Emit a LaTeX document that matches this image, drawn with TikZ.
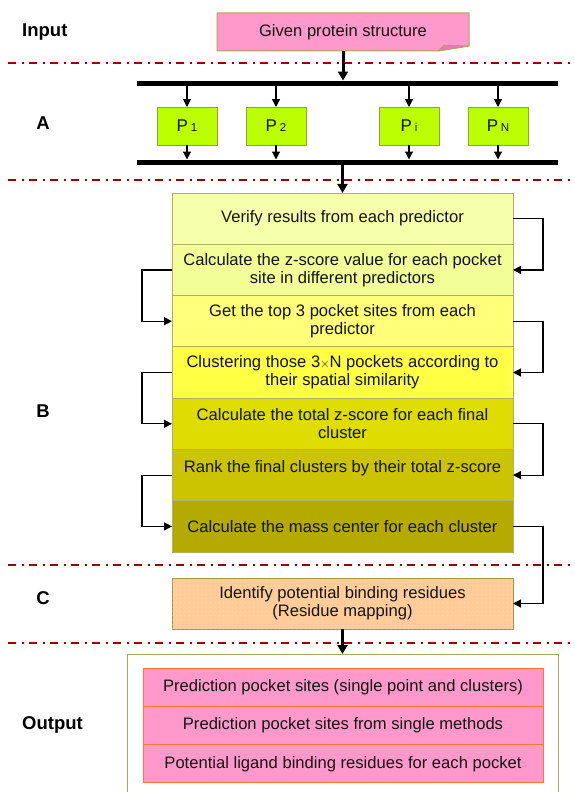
\documentclass[tikz,border=0pt]{standalone}
\usepackage{fontspec}
\setmainfont{Liberation Sans}
\usetikzlibrary{arrows.meta,patterns.meta}
\definecolor{pinkfill}{HTML}{FF99CC}
\definecolor{pinkfold}{HTML}{D980AD}
\definecolor{inborder}{HTML}{B5A25A}
\definecolor{pgreen}{HTML}{BBFF00}
\definecolor{pborder}{HTML}{9C9C3A}
\definecolor{rowborder}{HTML}{B0B060}
\definecolor{rA}{HTML}{F6FFAA}
\definecolor{rB}{HTML}{F1FF96}
\definecolor{rC}{HTML}{FFFF7A}
\definecolor{rD}{HTML}{FFFF44}
\definecolor{rE}{HTML}{DEDC00}
\definecolor{rF}{HTML}{CCC400}
\definecolor{rG}{HTML}{B4AA00}
\definecolor{cfill}{HTML}{FFCC99}
\definecolor{cdots}{HTML}{FFDDB8}
\definecolor{cborder}{HTML}{A09A40}
\definecolor{outborder}{HTML}{A8A860}
\definecolor{oborder}{HTML}{FF7733}
\definecolor{sepred}{HTML}{990000}
\definecolor{txt}{HTML}{141414}
\newcommand{\txtfont}{\fontsize{16.6}{18}\selectfont}
\newcommand{\subsz}[1]{\,{\fontsize{11.5}{11.5}\selectfont #1}}
\begin{document}
\begin{tikzpicture}[x=1pt,y=-1pt,
  lbl/.style={font=\bfseries\fontsize{18.5}{20}\selectfont, inner sep=0pt},
  sepline/.style={draw=sepred, line width=2pt, dash pattern=on 8pt off 5.5pt on 2pt off 5.5pt},
  bar/.style={line width=5pt},
  thickarrow/.style={line width=3pt, -{Triangle[length=9pt,width=10pt]}},
  thinarrow/.style={line width=1.2pt, -{Triangle[length=8pt,width=8pt]}},
  pbox/.style={draw=pborder, fill=pgreen, line width=0.8pt, minimum width=60pt, minimum height=38pt, inner sep=0pt, outer sep=0pt, font=\fontsize{17}{18}\selectfont, text=txt},
  rowbox/.style={draw=rowborder, line width=0.8pt, minimum width=341pt, minimum height=51.3pt, inner sep=0pt, outer sep=0pt, align=center, font=\txtfont, text=txt},
  obox/.style={draw=oborder, fill=pinkfill, line width=1pt, minimum width=400pt, minimum height=38.3pt, inner sep=0pt, outer sep=0pt, font=\txtfont, text=txt}
]
\useasboundingbox (0,0) rectangle (575,792);
\clip (0,0) rectangle (575,792);

% section separators
\foreach \yy in {63,180,565,643} \draw[sepline] (8,\yy) -- (575,\yy);

% labels
\node[lbl, anchor=west] (lin) at (22,32) {Input};
\node[lbl] (la) at (43,123) {A};
\node[lbl] (lb) at (43,411) {B};
\node[lbl] (lc) at (43,598) {C};
\node[lbl, anchor=west] (lout) at (22,725) {Output};

% input box with folded corner
\filldraw[fill=pinkfill, draw=inborder, line width=1pt] (217,13) -- (469,13) -- (469,46) -- (438,51) -- (217,51) -- cycle;
\filldraw[fill=pinkfold, draw=inborder, line width=0.6pt] (469,46) -- (438,51) -- (444,45) -- cycle;
\node[font=\txtfont, text=txt, inner sep=0pt, outer sep=0pt, minimum width=252pt, minimum height=38pt] (in) at (343,32) {Given protein structure};

% bars
\coordinate (b1L) at (137,83);
\coordinate (b1R) at (558,83);
\coordinate (b2L) at (137,162);
\coordinate (b2R) at (558,162);
\coordinate (b2top) at (0,159.5);
\coordinate (b1bot) at (0,85);
\coordinate (b1top) at (0,80.5);
\draw[bar] (b1L) -- (b1R);
\draw[bar] (b2L) -- (b2R);
\draw[thickarrow] (in.south) -- (in.south |- b1top);

% predictors
\node[pbox] (p1) at (187,126) {P\subsz{1}};
\node[pbox] (p2) at (276,126) {P\subsz{2}};
\node[pbox] (pi) at (409,126) {P\subsz{i}};
\node[pbox] (pn) at (498,126) {P\subsz{N}};
\foreach \p in {p1,p2,pi,pn} {
  \draw[thinarrow] (\p.north |- b1bot) -- (\p.north);
  \draw[thinarrow] (\p.south) -- (\p.south |- b2top);
}

% B block
\node[rowbox, fill=rA] (r1) at (342.5,218.6) {Verify results from each predictor};
\node[rowbox, fill=rB] (r2) at (342.5,269.9) {Calculate the z-score value for each pocket\\site in different predictors};
\node[rowbox, fill=rC] (r3) at (342.5,321.2) {Get the top 3 pocket sites from each\\predictor};
\node[rowbox, fill=rD] (r4) at (342.5,372.5) {Clustering those 3\raisebox{0.5pt}{\fontsize{12}{12}\selectfont$\times$}N pockets according to\\their spatial similarity};
\node[rowbox, fill=rE] (r5) at (342.5,423.8) {Calculate the total z-score for each final\\cluster};
\node[rowbox, fill=rF] (r6) at (342.5,475.1) {Rank the final clusters by their total z-score\\\mbox{}};
\node[rowbox, fill=rG] (r7) at (342.5,526.4) {Calculate the mass center for each cluster};

\draw[thickarrow] (b2L -| r1.north) -- (r1.north);

\draw[thinarrow] (r1.east) -- ++(30,0) |- (r2.east);
\draw[thinarrow] (r2.west) -- ++(-30,0) |- (r3.west);
\draw[thinarrow] (r3.east) -- ++(30,0) |- (r4.east);
\draw[thinarrow] (r4.west) -- ++(-30,0) |- (r5.west);
\draw[thinarrow] (r5.east) -- ++(30,0) |- (r6.east);
\draw[thinarrow] (r6.west) -- ++(-30,0) |- (r7.west);

% C
\node[rowbox, draw=cborder, fill=cfill, line width=1pt,
  postaction={pattern={Dots[distance=4.3pt,radius=0.5pt]}, pattern color=cdots},
  minimum height=51pt] (cbox) at (342.5,603.5) {Identify potential binding residues\\(Residue mapping)};
\draw[thinarrow] (r7.east) -- ++(30,0) |- (cbox.east);

% Output
\node[draw=outborder, line width=1pt, minimum width=431pt, minimum height=160pt, inner sep=0pt, outer sep=0pt, anchor=north] (out) at (342.5,654) {};
\draw[thickarrow] (cbox.south) -- (out.north);
\node[obox] (o1) at (343,687.2) {Prediction pocket sites (single point and clusters)};
\node[obox] (o2) at (343,725.5) {Prediction pocket sites from single methods};
\node[obox] (o3) at (343,763.8) {Potential ligand binding residues for each pocket};
\end{tikzpicture}
\end{document}
